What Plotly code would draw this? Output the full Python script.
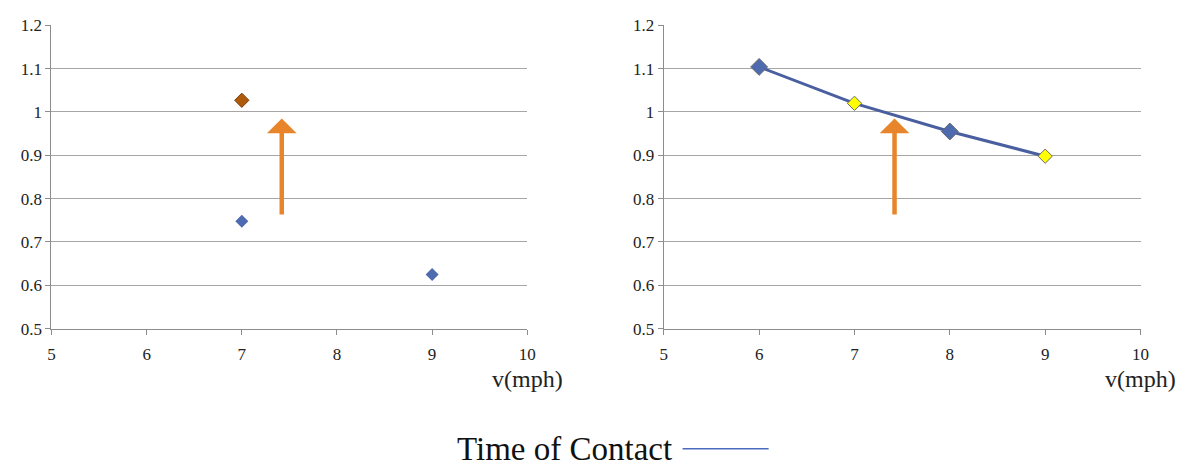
import plotly.graph_objects as go

# Left panel data
left_blue_x = [7, 9]
left_blue_y = [0.748, 0.625]
left_brown_x = [7]
left_brown_y = [1.027]

# Right panel data (Time of Contact)
right_x = [6, 7, 8, 9]
right_y = [1.104, 1.020, 0.955, 0.898]
right_marker_colors = ["#4F6BB0", "#FFFF00", "#4F6BB0", "#FFFF00"]
right_marker_sizes = [13, 11, 13, 11]

# Arrow positions (data coords): x, y_start, y_end
arrow_left = (7.42, 0.76, 0.985)
arrow_right = (7.42, 0.76, 0.985)

x_ticks = [5, 6, 7, 8, 9, 10]
y_ticks = [0.5, 0.6, 0.7, 0.8, 0.9, 1.0, 1.1, 1.2]
y_ticktext = ["0.5", "0.6", "0.7", "0.8", "0.9", "1", "1.1", "1.2"]

W, H = 1200, 474
serif = "Liberation Serif"
grid_col = "#A6A6A6"
axis_col = "#8C8C8C"

fig = go.Figure()

fig.add_trace(go.Scatter(x=left_blue_x, y=left_blue_y, mode="markers",
                         marker=dict(symbol="diamond", size=10, color="#4F6BB0",
                                     opacity=1, line=dict(width=0)),
                         xaxis="x", yaxis="y", showlegend=False))
fig.add_trace(go.Scatter(x=left_brown_x, y=left_brown_y, mode="markers",
                         marker=dict(symbol="diamond", size=11, color="#B05A0C",
                                     opacity=1, line=dict(width=1, color="#7A3C05")),
                         xaxis="x", yaxis="y", showlegend=False))
fig.add_trace(go.Scatter(x=right_x, y=right_y, mode="lines",
                         line=dict(color="#4A5FA0", width=3),
                         xaxis="x2", yaxis="y2", showlegend=False))
fig.add_trace(go.Scatter(x=right_x, y=right_y, mode="markers",
                         marker=dict(symbol="diamond", size=right_marker_sizes,
                                     color=right_marker_colors, opacity=1,
                                     line=dict(width=1, color="#6A6A6A")),
                         xaxis="x2", yaxis="y2", showlegend=False))

def xaxis_cfg(domain, anchor):
    return dict(domain=domain, anchor=anchor, range=[5, 10], tickvals=x_ticks,
                showgrid=False, zeroline=False, showline=True, linecolor=axis_col,
                linewidth=1, ticks="outside", ticklen=5, tickcolor=axis_col,
                ticklabelstandoff=5,
                tickfont=dict(family=serif, size=17, color="#222"), fixedrange=True)

def yaxis_cfg(domain, anchor):
    return dict(domain=domain, anchor=anchor, range=[0.5, 1.2], tickvals=y_ticks,
                ticktext=y_ticktext, showgrid=True, gridcolor=grid_col, gridwidth=1,
                zeroline=False, showline=True, linecolor=axis_col, linewidth=1,
                ticks="outside", ticklen=5, tickcolor=axis_col,
                tickfont=dict(family=serif, size=17, color="#222"), fixedrange=True)

ydom = [1 - 333 / H, 1 - 17 / H]
fig.update_layout(
    width=W, height=H, margin=dict(l=0, r=0, t=0, b=0),
    paper_bgcolor="white", plot_bgcolor="white",
    xaxis=xaxis_cfg([48 / W, 529 / W], "y"),
    yaxis=yaxis_cfg(ydom, "x"),
    xaxis2=xaxis_cfg([667 / W, 1149 / W], "y2"),
    yaxis2=yaxis_cfg(ydom, "x2"),
    showlegend=False,
)

# Orange arrows
for (ax_x, y0, y1), xr, yr in [(arrow_left, "x", "y"), (arrow_right, "x2", "y2")]:
    fig.add_annotation(x=ax_x, y=y1, ax=ax_x, ay=y0, xref=xr, yref=yr,
                       axref=xr, ayref=yr, showarrow=True, arrowhead=1,
                       arrowsize=1.1, arrowwidth=4.5, arrowcolor="#E8842A", text="")

# Axis titles
for xr in ["x domain", "x2 domain"]:
    fig.add_annotation(x=1.0, y=(H - 385) / H, xref=xr, yref="paper",
                       text="v(mph)", showarrow=False, xanchor="center",
                       yanchor="middle",
                       font=dict(family=serif, size=24, color="#222"))

# Legend
fig.add_annotation(x=677 / W, y=(H - 458) / H, xref="paper", yref="paper",
                   text="Time of Contact", showarrow=False, xanchor="right",
                   yanchor="middle", font=dict(family=serif, size=33, color="#111"))
fig.add_shape(type="line", xref="paper", yref="paper",
              x0=686 / W, x1=773 / W, y0=(H - 458) / H, y1=(H - 458) / H,
              line=dict(color="#4A6BC0", width=1.5))

fig.write_html("out.html")
